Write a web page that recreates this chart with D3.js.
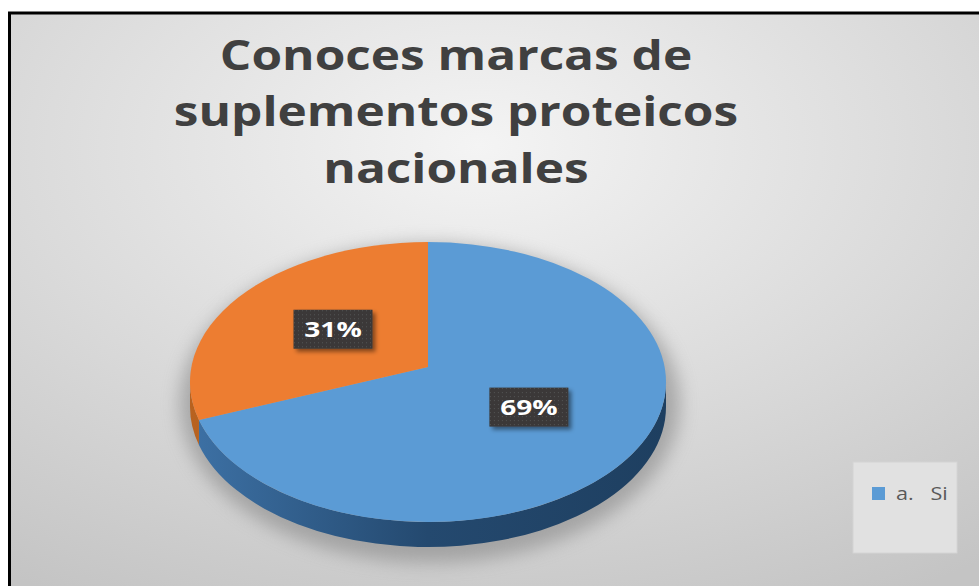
<!DOCTYPE html>
<html>
<head>
<meta charset="utf-8">
<script src="https://cdn.jsdelivr.net/npm/d3@7"></script>
<style>
body { margin: 0; background: #fff; }
svg { display: block; }
</style>
</head>
<body>
<div id="chart"></div>
<script>
const categories = ["a. Si", "b. No"];
const values = [69, 31];
const labels = ["69%", "31%"];
const titleLines = ["Conoces marcas de", "suplementos proteicos", "nacionales"];

const topColors = ["#5b9bd5", "#ed7d31"];
const sideColors = [["#3d71a5", "#24496f", "#1e3f60"], ["#b8621f", "#a3541a", "#8f4915"]];

const width = 979;
const height = 586;
const stretch = 1.18; // the source picture is stretched sideways

// pie geometry (a tilted disk seen in perspective)
const cx = 428;
const rimTop = 242, apexY = 367, rimBottom = 522;
const rx = 238;
const depth = 25;

const cy = (rimTop + rimBottom) / 2;
const ry = (rimBottom - rimTop) / 2;
const k = (2 * apexY - rimTop - rimBottom) / (rimBottom - rimTop);
const p = rimBottom * (1 + k) - apexY;
const rx0 = rx * Math.sqrt(1 - k * k);

// u = sideways, v = towards the viewer, both on the unit disk
function project(u, v) {
    return [cx + rx0 * u / (1 + k * v), (p * v + apexY) / (1 + k * v)];
}
function rim(a, f = 1) {
    return project(f * Math.sin(a), -f * Math.cos(a));
}
// parameter of a point on the drawn ellipse
function ellParam(pt) {
    let t = Math.atan2((pt[0] - cx) / rx, -(pt[1] - cy) / ry);
    if (t < 0) t += 2 * Math.PI;
    return t;
}
function ell(t, dy = 0) {
    return [cx + rx * Math.sin(t), cy - ry * Math.cos(t) + dy];
}

const svg = d3.select("#chart")
    .append("svg")
    .attr("width", width)
    .attr("height", height);

const defs = svg.append("defs");

const bg = defs.append("radialGradient")
    .attr("id", "bg")
    .attr("cx", "47%").attr("cy", "22%").attr("r", "85%");
bg.append("stop").attr("offset", "0%").attr("stop-color", "#f4f4f4");
bg.append("stop").attr("offset", "55%").attr("stop-color", "#dadada");
bg.append("stop").attr("offset", "100%").attr("stop-color", "#c4c4c4");

sideColors.forEach((c, i) => {
    const g = defs.append("linearGradient")
        .attr("id", "side" + i)
        .attr("gradientUnits", "userSpaceOnUse")
        .attr("x1", cx - rx).attr("x2", cx + rx)
        .attr("y1", 0).attr("y2", 0);
    g.append("stop").attr("offset", "0%").attr("stop-color", c[0]);
    g.append("stop").attr("offset", "50%").attr("stop-color", c[1]);
    g.append("stop").attr("offset", "100%").attr("stop-color", c[2]);
});

defs.append("filter")
    .attr("id", "blur")
    .attr("x", "-20%").attr("y", "-20%").attr("width", "140%").attr("height", "140%")
    .append("feGaussianBlur").attr("stdDeviation", 9);

defs.append("filter")
    .attr("id", "lblShadow")
    .attr("x", "-20%").attr("y", "-30%").attr("width", "150%").attr("height", "170%")
    .append("feDropShadow")
    .attr("dx", 3).attr("dy", 3).attr("stdDeviation", 2)
    .attr("flood-color", "#000").attr("flood-opacity", 0.45);

const dots = defs.append("pattern")
    .attr("id", "dots")
    .attr("width", 4).attr("height", 4)
    .attr("patternUnits", "userSpaceOnUse");
dots.append("rect").attr("width", 4).attr("height", 4).attr("fill", "#3a3838");
dots.append("rect").attr("x", 1).attr("y", 1).attr("width", 1).attr("height", 1).attr("fill", "#555");

// chart area with frame (right and bottom edges are cut off)
svg.append("rect")
    .attr("x", 9.5).attr("y", 13)
    .attr("width", width + 20).attr("height", height + 20)
    .attr("fill", "url(#bg)")
    .attr("stroke", "#000")
    .attr("stroke-width", 3);

// title
svg.append("g")
    .attr("transform", `translate(456,0) scale(${stretch},1)`)
    .append("text")
    .attr("y", 70)
    .attr("text-anchor", "middle")
    .attr("font-family", "'Open Sans', sans-serif")
    .attr("font-weight", "bold")
    .attr("font-size", "42px")
    .attr("fill", "#404040")
    .selectAll("tspan")
    .data(titleLines)
    .join("tspan")
    .attr("x", 0)
    .attr("dy", (d, i) => i === 0 ? 0 : 56.5)
    .text(d => d);

// slices
const pie = d3.pie().sort(null).value(d => d);
const arcs = pie(values).map((d, i) => {
    const p0 = rim(d.startAngle), p1 = rim(d.endAngle);
    let t0 = ellParam(p0), t1 = ellParam(p1);
    if (t1 <= t0) t1 += 2 * Math.PI;
    return { ...d, i, p0, p1, t0, t1 };
});

// shadow under the pie
svg.append("ellipse")
    .attr("cx", cx + 2)
    .attr("cy", cy + depth / 2 + 9)
    .attr("rx", rx + 12)
    .attr("ry", ry + depth / 2 + 7)
    .attr("fill", "#868686")
    .attr("opacity", 0.6)
    .attr("filter", "url(#blur)");

// sides (only the near half of the rim is visible)
arcs.forEach(d => {
    const ta = Math.max(d.t0, Math.PI / 2);
    const tb = Math.min(d.t1, 3 * Math.PI / 2);
    if (tb <= ta) return;
    const a = ell(ta), b = ell(tb), bd = ell(tb, depth), ad = ell(ta, depth);
    svg.append("path")
        .attr("d", `M${a}A${rx},${ry} 0 0 1 ${b}L${bd}A${rx},${ry} 0 0 0 ${ad}Z`)
        .attr("fill", `url(#side${d.i})`);
});

// top faces
arcs.forEach(d => {
    const large = (d.t1 - d.t0) > Math.PI ? 1 : 0;
    svg.append("path")
        .attr("d", `M${cx},${apexY}L${d.p0}A${rx},${ry} 0 ${large} 1 ${d.p1}Z`)
        .attr("fill", topColors[d.i]);
});

// data labels
const lblW = 79, lblH = 39;
arcs.forEach(d => {
    const mid = (d.startAngle + d.endAngle) / 2;
    const c = rim(mid, 0.5);
    const g = svg.append("g").attr("transform", `translate(${c[0]},${c[1]})`);
    g.append("rect")
        .attr("x", -lblW / 2).attr("y", -lblH / 2)
        .attr("width", lblW).attr("height", lblH)
        .attr("fill", "url(#dots)")
        .attr("filter", "url(#lblShadow)");
    g.append("text")
        .attr("transform", "scale(1.28,1)")
        .attr("text-anchor", "middle")
        .attr("dy", "0.36em")
        .attr("font-family", "'Open Sans', sans-serif")
        .attr("font-weight", "bold")
        .attr("font-size", "22px")
        .attr("fill", "#fff")
        .text(labels[d.i]);
});

// legend: the box is too small, only the first entry is shown
const legend = svg.append("g").attr("transform", "translate(853,462)");
legend.append("rect")
    .attr("width", 104).attr("height", 91)
    .attr("fill", "#e1e1e1")
    .attr("stroke", "#d4d4d4");
const items = legend.selectAll("g.item")
    .data(categories.slice(0, 1))
    .join("g")
    .attr("class", "item")
    .attr("transform", (d, i) => `translate(19,${25 + i * 26})`);
items.append("rect")
    .attr("width", 13).attr("height", 13)
    .attr("fill", (d, i) => topColors[i]);
items.append("text")
    .attr("transform", `translate(24,13) scale(1.2,1)`)
    .attr("font-family", "'Open Sans', sans-serif")
    .attr("font-size", "18px")
    .attr("fill", "#595959")
    .style("white-space", "pre")
    .text(d => d.replace(" ", "   "));
</script>
</body>
</html>
